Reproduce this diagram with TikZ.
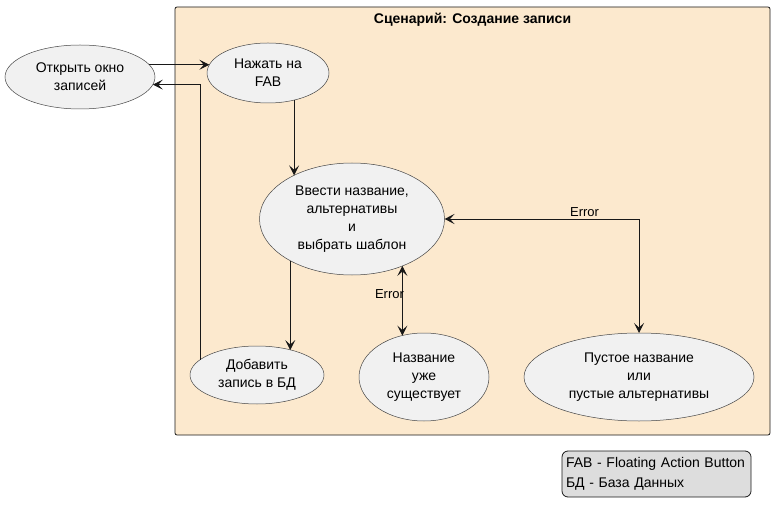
\documentclass[tikz,border=0pt]{standalone}
\usepackage{fontspec}
\setmainfont{Liberation Sans}
\usetikzlibrary{
  shapes.geometric,
  arrows.meta,
  positioning
}
\definecolor{myframe}{RGB}{252,233,206}
\definecolor{myfill}{RGB}{241,241,241}
\definecolor{myline}{RGB}{24,24,24}
\definecolor{mygray}{RGB}{221,221,221}

\begin{document}
\begin{tikzpicture}[
  x=1pt, y=-1pt,
  font=\fontsize{14}{18}\selectfont,
  myellipse/.style={
    draw=myline!80,
    line width=0.5pt,
    fill=myfill,
    ellipse,
    inner sep=0pt,
    outer sep=0pt,
    align=center
    },
  myframe/.style={
    draw=myline,
    line width=0.8pt,
    fill=myframe,
    rectangle,
    rounded corners=2pt,
    inner sep=0pt,
    outer sep=0pt
    },
  mylegend/.style={
    draw=myline,
    line width=0.8pt,
    fill=mygray,
    rectangle,
    rounded corners=6pt,
    inner xsep=4pt,
    inner ysep=3pt,
    minimum width=189pt,
    minimum height=46pt,
    font=\fontsize{14}{20}\selectfont,
    align=left
    },
  myarrow/.style={
    draw=myline,
    line width=0.9pt,
    -{Stealth[length=10pt,width=10pt,inset=4.5pt]}
    },
  mybiarrow/.style={
    myarrow,
    {Stealth[length=10pt,width=10pt,inset=4.5pt]}-{Stealth[length=10pt,width=10pt,inset=4.5pt]}
    },
  mylabel/.style={font=\fontsize{13}{15}\selectfont, inner sep=1pt}
]
\useasboundingbox (0,0) rectangle (775,518);

% scenario frame
\node[myframe, minimum width=595, minimum height=428] (scenario) at (472.5,221) {};
\node[font=\fontsize{14}{16}\selectfont\bfseries, below=3pt of scenario.north] (title)
  {Сценарий: Создание записи};

% use cases
\node[myellipse, minimum width=150, minimum height=64] (open) at (80,77)
  {Открыть окно\\записей};
\node[myellipse, minimum width=122, minimum height=60] (fab) at (268,73)
  {Нажать на\\FAB};
\node[myellipse, minimum width=185, minimum height=112] (enter) at (352,219)
  {Ввести название,\\альтернативы\\и\\выбрать шаблон};
\node[myellipse, minimum width=134, minimum height=58] (add) at (257,375)
  {Добавить\\запись в БД};
\node[myellipse, minimum width=130, minimum height=88] (exists) at (424,377)
  {Название\\уже\\существует};
\node[myellipse, minimum width=230, minimum height=88] (empty) at (639,377)
  {Пустое название\\или\\пустые альтернативы};

% legend
\node[mylegend, text width=181pt] (legend) at (656.5,474)
  {FAB - Floating Action Button\\БД - База Данных};

% connectors
\draw[myarrow] (open.10) -- (open.10 -| fab.172);
\draw[myarrow] (add.165) |- (open.-6);
\draw[myarrow] (fab.-46) -- (fab.-46 |- enter.143);
\draw[myarrow] (enter.214.5) -- (enter.214.5 |- add.36);
\draw[mybiarrow] (enter.-43) -- (enter.-43 |- exists.118)
  node[mylabel, pos=0.4, left=-3pt] (err1) {Error};
\draw[mybiarrow] (enter.east) -| (empty.north)
  node[mylabel, pos=0.36, above=1pt] (err2) {Error};
\end{tikzpicture}
\end{document}
